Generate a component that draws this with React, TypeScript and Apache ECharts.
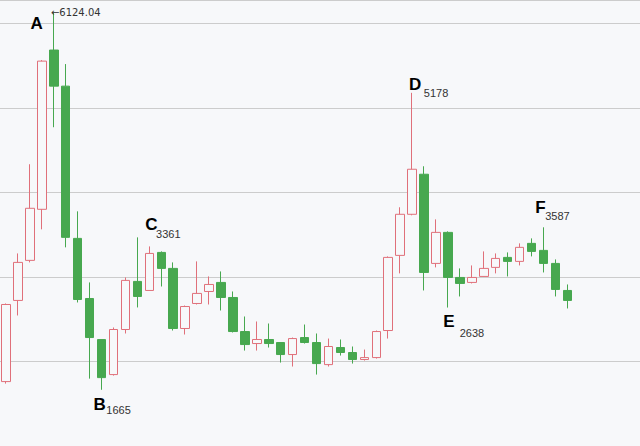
import React, { useEffect, useRef } from "react";
import * as echarts from "echarts";

const categories = Array.from({ length: 48 }, (_, i) => String(i + 1));
const opens = [1762, 2722, 3196, 3800, 5684, 5257, 3456, 2745, 2259, 1845, 2378, 2947, 2840, 3290, 3101, 2390, 2686, 2828, 2935, 2757, 2354, 2212, 2260, 2224, 2082, 2283, 2224, 1963, 2165, 2106, 2023, 2046, 2366, 3255, 3741, 4215, 3160, 3527, 2994, 2935, 3006, 3113, 3231, 3184, 3397, 3314, 3160, 2840];
const closes = [2674, 3172, 3812, 5553, 5257, 3468, 2733, 2283, 1809, 2378, 2959, 2769, 3278, 3101, 2390, 2650, 2805, 2911, 2757, 2354, 2200, 2260, 2212, 2082, 2271, 2224, 1975, 2177, 2106, 2023, 2046, 2354, 3231, 3741, 4274, 3053, 3527, 2994, 2923, 2994, 3101, 3219, 3184, 3350, 3302, 3160, 2852, 2722];
const lows = [1738, 2544, 3172, 3563, 4771, 3350, 2698, 1797, 1665, 1833, 2331, 2639, 2840, 2887, 2366, 2319, 2674, 2674, 2603, 2343, 2129, 2129, 2165, 1987, 1940, 2212, 1845, 1940, 2070, 1975, 2011, 2034, 2271, 3042, 3729, 2840, 3113, 2638, 2769, 2923, 3006, 3042, 3006, 3136, 3243, 3053, 2769, 2627];
const highs = [2686, 3278, 4333, 5565, 6124.04, 5518, 3776, 2935, 2259, 2402, 2994, 3468, 3361, 3302, 3172, 2662, 3184, 3006, 3065, 2828, 2532, 2473, 2449, 2224, 2283, 2437, 2331, 2271, 2260, 2177, 2141, 2366, 3243, 3824, 5178, 4309, 3681, 3539, 3101, 3136, 3302, 3278, 3290, 3397, 3456, 3587, 3207, 2911];

// [letter, candle index, kind ('high' | 'low'), shown number]
const extremes: [string, number, "high" | "low", string][] = [
  ["A", 4, "high", ""],
  ["B", 8, "low", "1665"],
  ["C", 12, "high", "3361"],
  ["D", 34, "high", "5178"],
  ["E", 37, "low", "2638"],
  ["F", 45, "high", "3587"],
];
const letterOffsets: Record<string, [number, number]> = {
  A: [-17, 11], B: [-2, 15], C: [2, -22], D: [3, -8], E: [1, 14], F: [-3, -20],
};
const numberOffsets: Record<string, [number, number]> = {
  B: [17, 20], C: [19, -12], D: [24, 0], E: [24, 25], F: [14, -11],
};

const UP = "#e0707a";
const DOWN = "#47a84f";
const BG = "#f7f8fa";

export default function App() {
  const ref = useRef<HTMLDivElement>(null);
  useEffect(() => {
    if (!ref.current) return;
    const chart = echarts.init(ref.current, undefined, { renderer: "svg" });
    const data = categories.map((_, i) => [opens[i], closes[i], lows[i], highs[i]]);
    const marks: any[] = [];
    extremes.forEach(([letter, idx, kind, num]) => {
      const val = kind === "high" ? highs[idx] : lows[idx];
      marks.push({
        coord: [idx, val],
        symbolSize: 0,
        label: {
          show: true,
          position: "inside",
          offset: letterOffsets[letter],
          formatter: letter,
          fontSize: 17,
          fontWeight: "bold",
          color: "#000",
          fontFamily: "Liberation Sans, Arial, sans-serif",
        },
      });
      if (num) {
        marks.push({
          coord: [idx, val],
          symbolSize: 0,
          label: {
            show: true,
            position: "inside",
            offset: numberOffsets[letter],
            formatter: num,
            fontSize: 11,
            color: "#333",
            fontFamily: "Liberation Sans, Arial, sans-serif",
          },
        });
      }
    });
    marks.push({
      coord: [4, highs[4]],
      symbolSize: 0,
      label: {
        show: true,
        position: "inside",
        offset: [22, 0],
        formatter: "←" + highs[4].toFixed(2),
        fontSize: 10,
        color: "#333",
        fontFamily: "DejaVu Sans, sans-serif",
      },
    });
    chart.setOption({
      animation: false,
      backgroundColor: BG,
      grid: { left: 0, top: 0, bottom: 0, right: 0 },
      xAxis: {
        type: "category",
        data: categories,
        max: 53,
        boundaryGap: true,
        axisLine: { show: false },
        axisTick: { show: false },
        axisLabel: { show: false },
        splitLine: { show: false },
      },
      yAxis: {
        type: "value",
        min: 1000,
        max: 6276,
        interval: 1000,
        axisLine: { show: false },
        axisTick: { show: false },
        axisLabel: { show: false },
        splitLine: { show: true, lineStyle: { color: "#cccccc", width: 1 } },
      },
      series: [
        {
          type: "candlestick",
          data,
          barWidth: 9,
          itemStyle: {
            color: BG,
            color0: DOWN,
            borderColor: UP,
            borderColor0: DOWN,
            borderWidth: 1,
          },
          markPoint: {
            symbol: "circle",
            symbolSize: 0,
            data: marks,
            silent: true,
          },
        },
      ],
    });
    return () => chart.dispose();
  }, []);
  return (
    <div style={{ position: "absolute", left: 0, top: 0, width: 640, height: 446, overflow: "hidden", background: BG }}>
      <div ref={ref} style={{ width: 645, height: 446 }} />
    </div>
  );
}
